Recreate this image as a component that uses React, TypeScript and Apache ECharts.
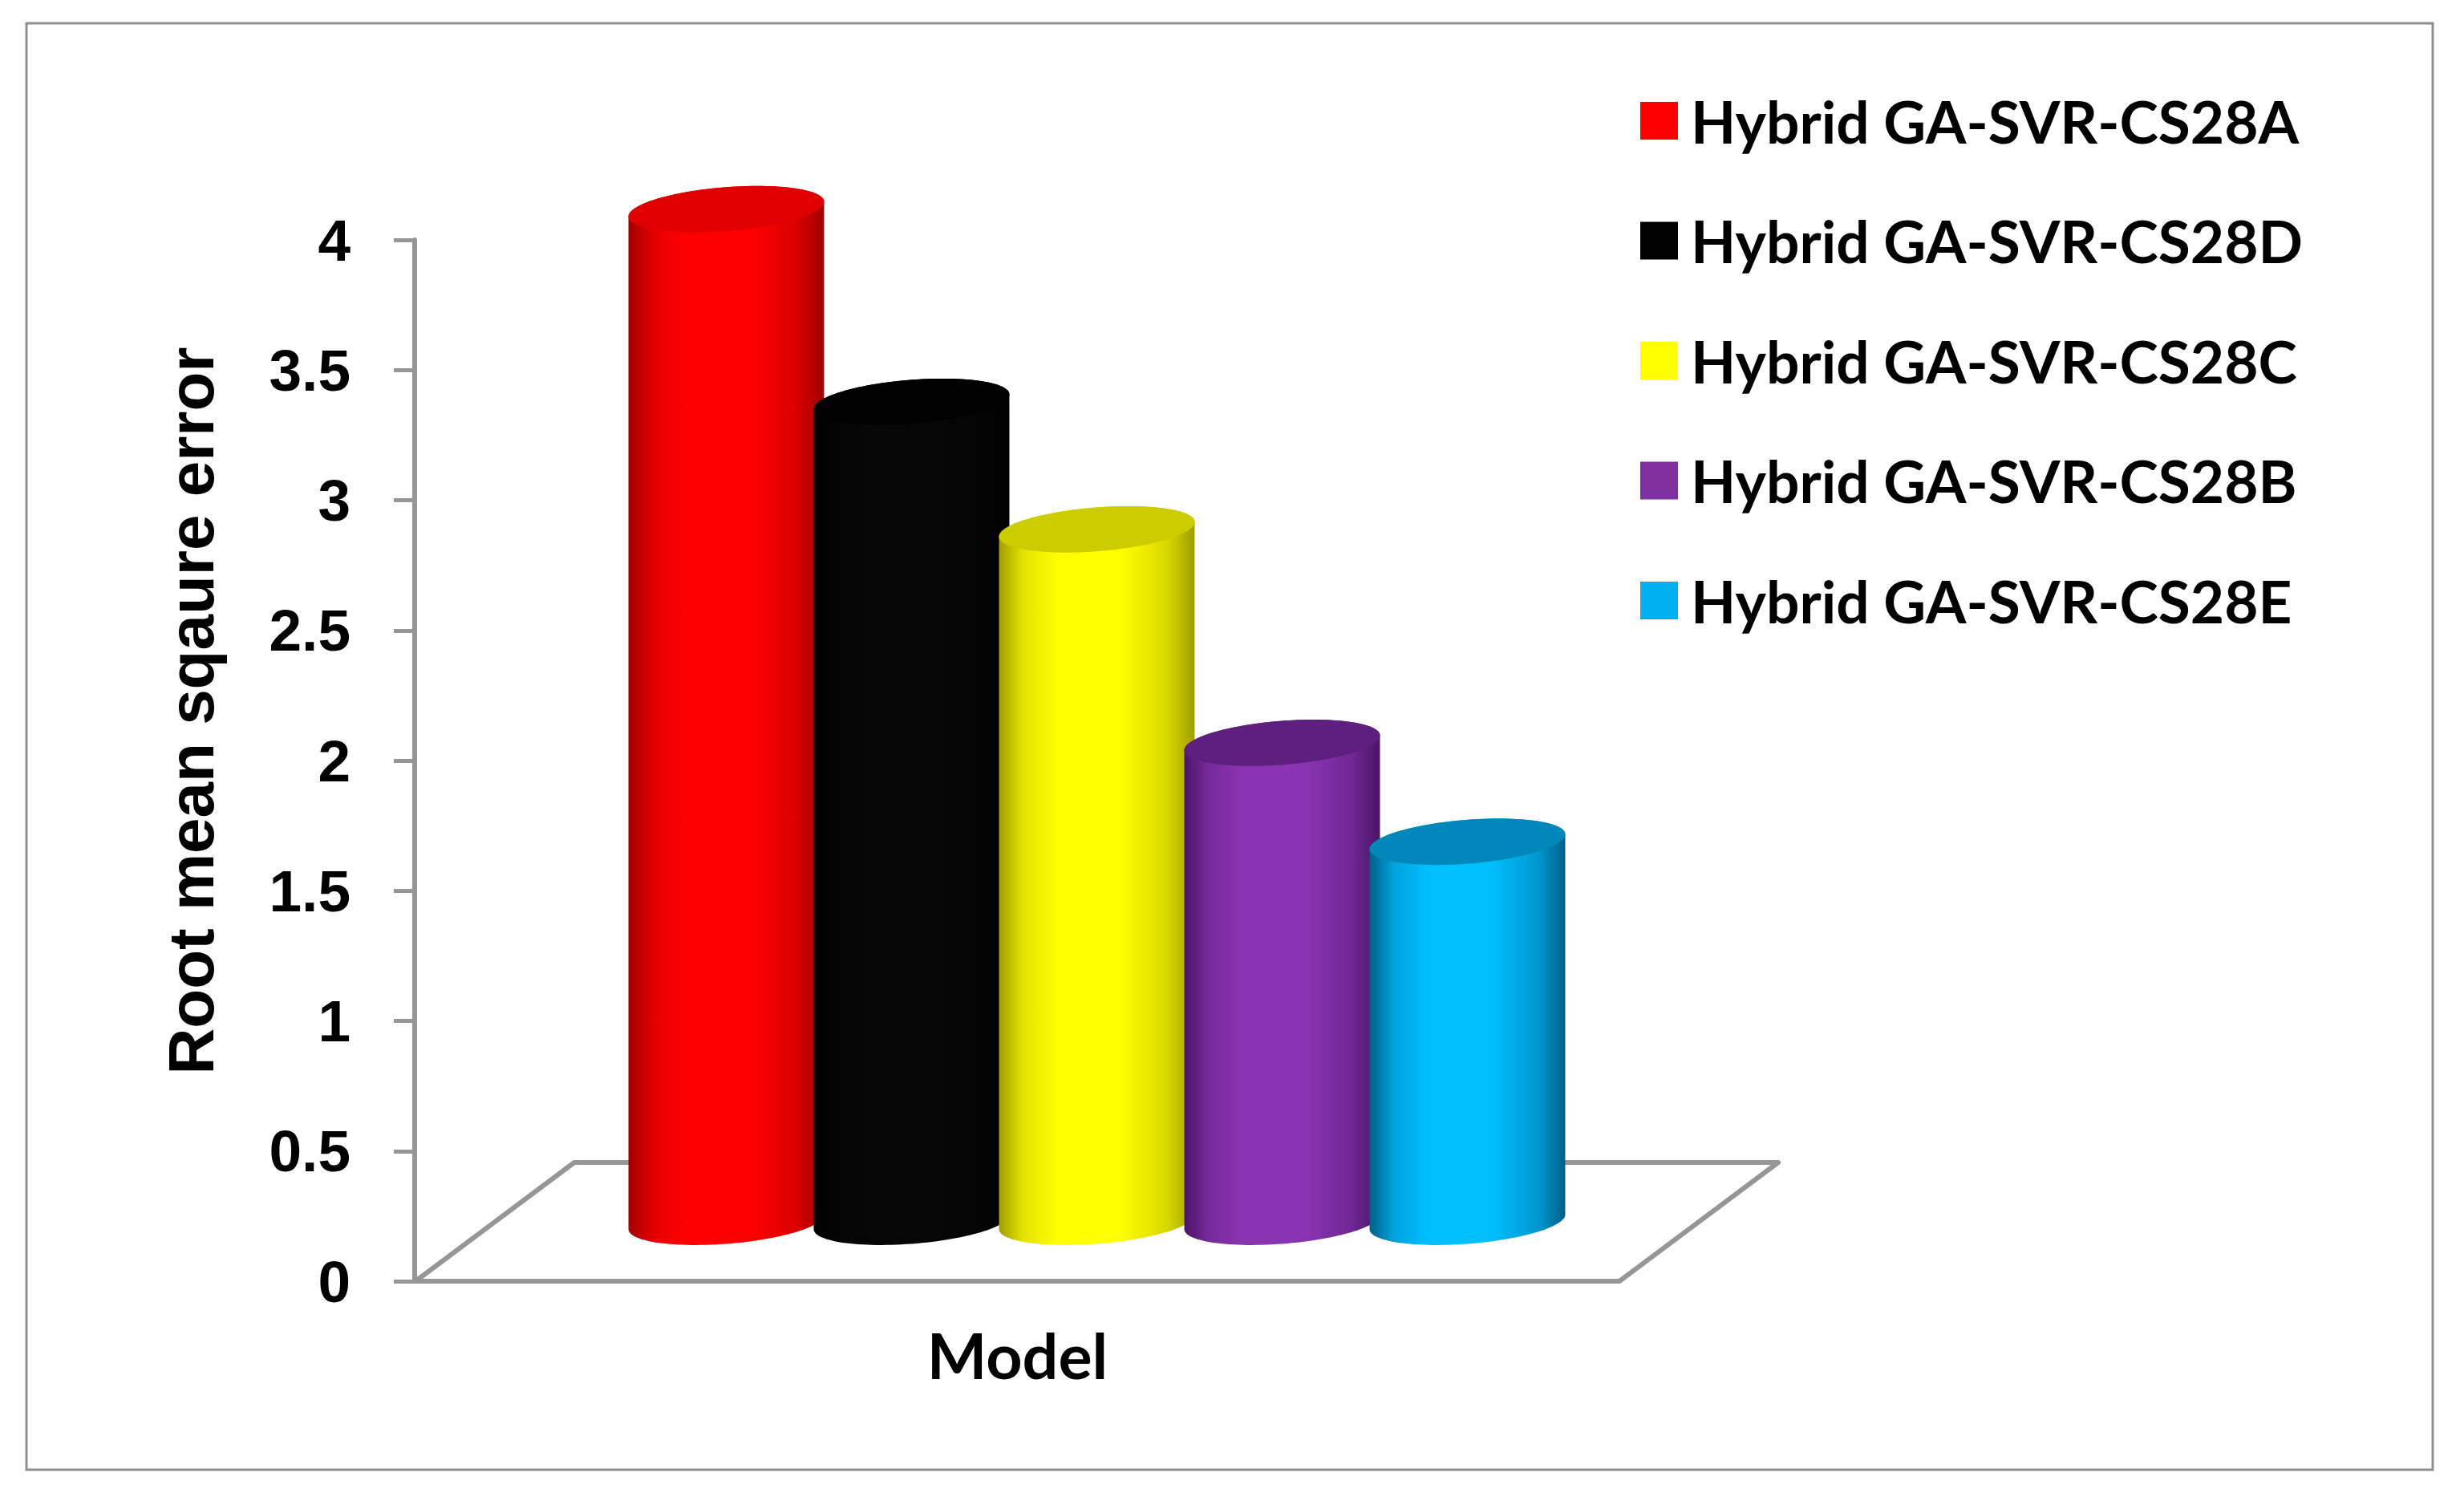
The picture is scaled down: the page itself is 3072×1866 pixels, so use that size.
import React, { useEffect, useRef } from "react";
import * as echarts from "echarts";

// ---- data ----
const categories: string[] = [
  "Hybrid GA-SVR-CS28A",
  "Hybrid GA-SVR-CS28D",
  "Hybrid GA-SVR-CS28C",
  "Hybrid GA-SVR-CS28B",
  "Hybrid GA-SVR-CS28E",
];
const rmseValues: number[] = [3.89, 3.15, 2.66, 1.84, 1.46];
const yMin = 0;
const yMax = 4;
const yInterval = 0.5;
const xAxisTitle = "Model";
const yAxisTitle = "Root mean sqaure error";

// ---- styles ----
const legendColors = ["#FF0000", "#000000", "#FFFF00", "#7F2FA0", "#00B0F0"];
const faceColors = ["#FF0000", "#060606", "#FFFF00", "#8A34B2", "#00BFFF"];
const edgeColors = ["#A00000", "#000000", "#9E9E00", "#4A1466", "#005F88"];
const capColors = ["#E00000", "#000000", "#CCCC00", "#5E1F7E", "#0088BB"];

const DEPTH_DX = 198; // floor depth projected (px)
const DEPTH_DY = -148;
const FLOOR_EXT = 173; // floor extends beyond category bands
const CYL_AX = 0.334; // oblique projection factors for cylinder circle
const CYL_AY = 0.25;
const AXIS_GRAY = "#969696";

function hexToRgb(h: string) {
  const n = parseInt(h.slice(1), 16);
  return [(n >> 16) & 255, (n >> 8) & 255, n & 255];
}
function mix(a: string, b: string, t: number) {
  const A = hexToRgb(a);
  const B = hexToRgb(b);
  const c = A.map((v, i) => Math.round(v + (B[i] - v) * t));
  return `rgb(${c[0]},${c[1]},${c[2]})`;
}

function cylinderRender(idx: number) {
  return (params: any, api: any) => {
    const i = api.value(0);
    const v = api.value(1);
    const top = api.coord([i, v]);
    const base = api.coord([i, 0]);
    const band = api.size([1, 0])[0];
    const halfW = band * 0.528;
    const R = halfW / Math.sqrt(1 + CYL_AX * CYL_AX);
    const cx = top[0] + DEPTH_DX / 2;
    const cyT = top[1] + DEPTH_DY / 2;
    const cyB = base[1] + DEPTH_DY / 2;
    const pt = (cy: number, th: number) => [
      cx + R * Math.cos(th) + R * Math.sin(th) * CYL_AX,
      cy - R * Math.sin(th) * CYL_AY,
    ];
    const thR = Math.atan(CYL_AX);
    const thL = Math.PI + thR;
    const N = 60;
    const body: number[][] = [];
    for (let k = 0; k <= N; k++) body.push(pt(cyT, thR + ((thL - thR) * k) / N));
    for (let k = 0; k <= N; k++) body.push(pt(cyB, thL + ((thR + 2 * Math.PI - thL) * k) / N));
    const cap: number[][] = [];
    for (let k = 0; k < 2 * N; k++) cap.push(pt(cyT, (2 * Math.PI * k) / (2 * N)));
    const face = faceColors[idx];
    const edge = edgeColors[idx];
    const grad = {
      type: "linear",
      x: 0,
      y: 0,
      x2: 1,
      y2: 0,
      colorStops: [
        { offset: 0, color: edge },
        { offset: 0.12, color: mix(edge, face, 0.7) },
        { offset: 0.3, color: face },
        { offset: 0.62, color: face },
        { offset: 0.86, color: mix(edge, face, 0.6) },
        { offset: 1, color: edge },
      ],
    };
    return {
      type: "group",
      children: [
        { type: "polygon", shape: { points: body }, style: { fill: grad } },
        { type: "polygon", shape: { points: cap }, style: { fill: capColors[idx] } },
      ],
    };
  };
}

export default function App() {
  const ref = useRef<HTMLDivElement>(null);
  useEffect(() => {
    document.body.style.margin = "0";
    if (!ref.current) return;
    const chart = echarts.init(ref.current, undefined, { renderer: "svg" });

    const floorSeries: any = {
      type: "custom",
      name: "__floor",
      silent: true,
      z: 1,
      data: [[0, 0]],
      encode: { x: 0, y: 1 },
      renderItem: (params: any, api: any) => {
        const cs = params.coordSys;
        const y0 = api.coord([0, 0])[1];
        const xl = cs.x - FLOOR_EXT;
        const xr = cs.x + cs.width + FLOOR_EXT;
        return {
          type: "polygon",
          shape: {
            points: [
              [xl, y0],
              [xr, y0],
              [xr + DEPTH_DX, y0 + DEPTH_DY],
              [xl + DEPTH_DX, y0 + DEPTH_DY],
            ],
          },
          style: { fill: "none", stroke: AXIS_GRAY, lineWidth: 6, lineJoin: "round" },
        };
      },
    };

    const cylSeries = categories.map((name, idx) => ({
      type: "custom",
      name,
      z: 3,
      itemStyle: { color: legendColors[idx] },
      data: [[idx, rmseValues[idx]]],
      encode: { x: 0, y: 1 },
      renderItem: cylinderRender(idx),
    }));

    const option: any = {
      animation: false,
      backgroundColor: "#ffffff",
      grid: {
        left: 691,
        top: 299,
        width: 1155,
        height: 1298,
        outerBoundsMode: "none",
      },
      xAxis: {
        type: "category",
        data: categories,
        axisLine: { show: false },
        axisTick: { show: false },
        axisLabel: { show: false },
        splitLine: { show: false },
        name: xAxisTitle,
        nameLocation: "middle",
        nameGap: 52,
        nameTextStyle: {
          fontFamily: "Lato",
          fontWeight: "bold",
          fontSize: 79,
          color: "#000",
        },
      },
      yAxis: {
        type: "value",
        min: yMin,
        max: yMax,
        interval: yInterval,
        offset: 174,
        axisLine: { show: true, lineStyle: { color: AXIS_GRAY, width: 6 } },
        axisTick: { show: true, length: 26, lineStyle: { color: AXIS_GRAY, width: 5 } },
        splitLine: { show: false },
        axisLabel: {
          margin: 80,
          fontFamily: "Liberation Sans",
          fontWeight: "bold",
          fontSize: 73,
          color: "#000",
        },
      },
      legend: {
        data: categories,
        orient: "vertical",
        left: 2040,
        top: 109,
        icon: "rect",
        itemWidth: 47,
        itemHeight: 47,
        itemGap: 76.5,
        selectedMode: false,
        textStyle: {
          fontFamily: "Lato",
          fontWeight: "bold",
          fontSize: 73,
          color: "#000",
          padding: [0, 0, 0, 11],
        },
      },
      graphic: [
        {
          type: "rect",
          silent: true,
          z: -10,
          shape: { x: 33, y: 29, width: 3000, height: 1803 },
          style: { fill: "none", stroke: "#8f8f8f", lineWidth: 3 },
        },
        {
          type: "text",
          x: 238,
          y: 886,
          rotation: Math.PI / 2,
          style: {
            text: yAxisTitle,
            fontFamily: "Liberation Sans",
            fontWeight: "bold",
            fontSize: 80,
            fill: "#000",
            align: "center",
            verticalAlign: "middle",
          },
        },
      ],
      series: [floorSeries, ...cylSeries],
    };
    chart.setOption(option);
    return () => chart.dispose();
  }, []);
  return <div ref={ref} style={{ width: 3072, height: 1866 }} />;
}
